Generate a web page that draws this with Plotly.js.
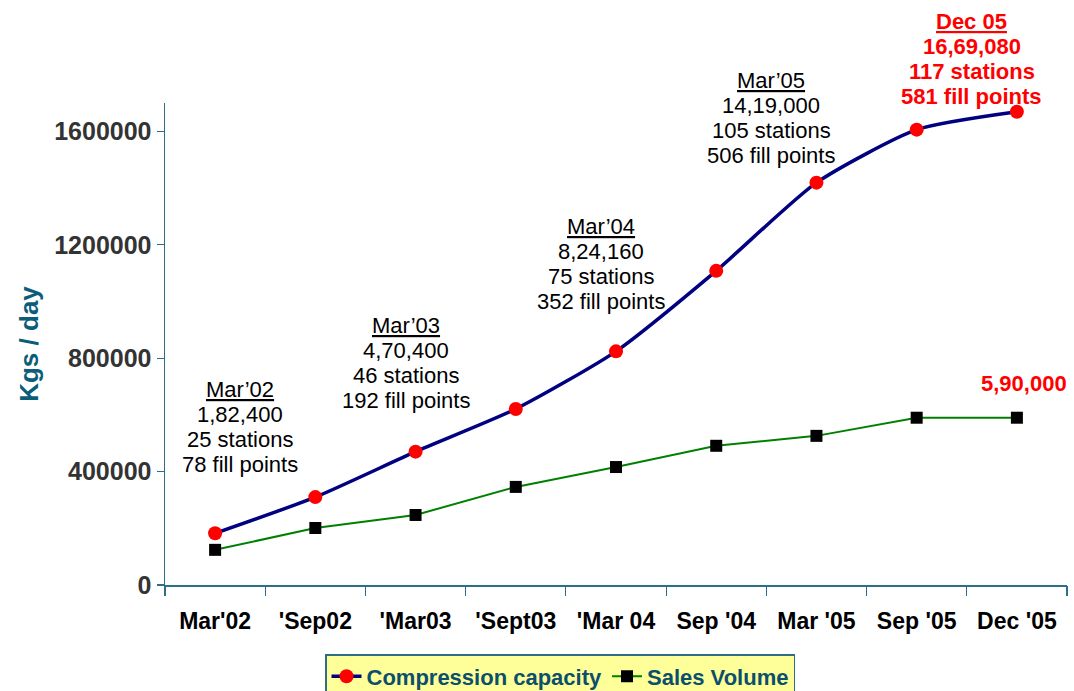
<!DOCTYPE html>
<html>
<head>
<meta charset="utf-8">
<script src="https://cdn.plot.ly/plotly-3.0.1.min.js"></script>
<style>html,body{margin:0;padding:0;background:#fff;}#chart{width:1074px;height:691px;}</style>
</head>
<body>
<div id="chart"></div>
<script>
const categories = ["Mar'02", "'Sep02", "'Mar03", "'Sept03", "'Mar 04", "Sep '04", "Mar '05", "Sep '05", "Dec '05"];
const compressionCapacity = [182400, 310000, 470400, 621000, 824160, 1108000, 1419000, 1606000, 1669080];
const salesVolume = [124000, 201000, 247000, 346000, 416000, 491000, 526000, 590000, 590000];
const yTicks = [0, 400000, 800000, 1200000, 1600000];

const noteMar02 = ["<u>Mar’02</u>", "1,82,400", "25 stations", "78 fill points"];
const noteMar03 = ["<u>Mar’03</u>", "4,70,400", "46 stations", "192 fill points"];
const noteMar04 = ["<u>Mar’04</u>", "8,24,160", "75 stations", "352 fill points"];
const noteMar05 = ["<u>Mar’05</u>", "14,19,000", "105 stations", "506 fill points"];
const noteDec05 = ["<u>Dec 05</u>", "16,69,080", "117 stations", "581 fill points"];
const noteSales = ["5,90,000"];

const axisColor = '#2E6E8A';
const font = 'Arial, "Liberation Sans", sans-serif';

const xIdx = categories.map((c, i) => i);
const traces = [
  {
    x: xIdx, y: compressionCapacity, name: 'Compression capacity',
    type: 'scatter', mode: 'lines+markers', xaxis: 'x', yaxis: 'y',
    line: {color: '#000080', width: 3.5, shape: 'spline', smoothing: 0.6},
    marker: {color: '#FF0000', size: 14, symbol: 'circle'}
  },
  {
    x: xIdx, y: salesVolume, name: 'Sales Volume',
    type: 'scatter', mode: 'lines+markers', xaxis: 'x', yaxis: 'y',
    line: {color: '#008000', width: 2},
    marker: {color: '#000000', size: 12, symbol: 'square'}
  },
  {x: [0], y: [0], xaxis: 'x2', yaxis: 'y', showlegend: false, hoverinfo: 'skip', mode: 'markers', marker: {opacity: 0}}
];

const annotations = [];
function addNote(lines, xCat, yTopPaper, color, bold) {
  lines.forEach((t, i) => annotations.push({
    x: xCat, y: yTopPaper, xref: 'x', yref: 'paper', yshift: -25.3 * i,
    text: bold ? '<b>' + t + '</b>' : t, showarrow: false,
    xanchor: 'center', yanchor: 'middle', align: 'center',
    font: {family: font, size: 22, color: color}
  }));
}
addNote(noteMar02, 0.25, 0.4066, '#000000', false);
addNote(noteMar03, 1.9, 0.5394, '#000000', false);
addNote(noteMar04, 3.855, 0.7448, '#000000', false);
addNote(noteMar05, 5.55, 1.0477, '#000000', false);
addNote(noteDec05, 7.55, 1.170, '#FF0000', true);
addNote(noteSales, 8.07, 0.419, '#FF0000', true);

const layout = {
  width: 1074, height: 691,
  margin: {l: 165, r: 7, t: 103, b: 106, autoexpand: false},
  paper_bgcolor: '#ffffff', plot_bgcolor: '#ffffff',
  showlegend: true,
  legend: {
    orientation: 'h', xref: 'container', yref: 'container',
    x: 560 / 1074, xanchor: 'center', y: 37 / 691, yanchor: 'top',
    bgcolor: '#FFFF99', bordercolor: axisColor, borderwidth: 1.5,
    font: {family: font, size: 22, color: '#0B4F6C', weight: 'bold'},
    itemwidth: 30, tracegroupgap: 0
  },
  xaxis: {
    range: [-0.5, 8.5], tickmode: 'array', tickvals: xIdx, ticktext: categories,
    showgrid: false, zeroline: false, showline: true, linecolor: axisColor, linewidth: 1.5,
    ticks: '', ticklabelstandoff: 15,
    tickfont: {family: font, size: 23, color: '#000000', weight: 'bold'}
  },
  xaxis2: {
    overlaying: 'x', range: [-0.5, 8.5], tickmode: 'array', tickvals: [-0.5, 0.5, 1.5, 2.5, 3.5, 4.5, 5.5, 6.5, 7.5, 8.5],
    showticklabels: false, ticks: 'outside', ticklen: 10, tickcolor: axisColor, tickwidth: 1.2,
    showgrid: false, zeroline: false, side: 'bottom', anchor: 'y'
  },
  yaxis: {
    range: [0, 1700000], tickmode: 'array', tickvals: yTicks, ticktext: yTicks.map(String),
    showgrid: false, zeroline: false, showline: true, linecolor: axisColor, linewidth: 1.5,
    ticks: 'outside', ticklen: 7, tickcolor: axisColor, tickwidth: 1.2,
    tickfont: {family: font, size: 25, color: '#333333', weight: 'bold'},
    title: {text: 'Kgs / day', font: {family: font, size: 26, color: '#0B5D7A', weight: 'bold'}, standoff: 8}
  },
  annotations: annotations
};

Plotly.newPlot('chart', traces, layout, {displayModeBar: false, staticPlot: true});
</script>
</body>
</html>
